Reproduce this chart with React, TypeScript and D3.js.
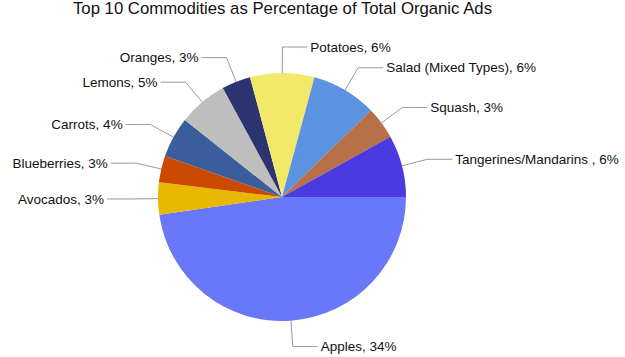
import React from "react";
import * as d3 from "d3";

const categories = [
  "Apples",
  "Avocados",
  "Blueberries",
  "Carrots",
  "Lemons",
  "Oranges",
  "Potatoes",
  "Salad (Mixed Types)",
  "Squash",
  "Tangerines/Mandarins ",
];
const values = [34.2, 3.0, 2.5, 3.8, 4.6, 2.7, 6.0, 6.1, 3.0, 5.8];
const percentLabels = ["34%", "3%", "3%", "4%", "5%", "3%", "6%", "6%", "3%", "6%"];
const colors = [
  "#6878F8",
  "#E8B800",
  "#CC4A00",
  "#3A5E9C",
  "#BEBEBE",
  "#2B3470",
  "#F2E86A",
  "#5B93E0",
  "#B87048",
  "#4A3AE0",
];

const W = 625;
const H = 357;
const CX = 282;
const CY = 197;
const R = 124;
const ELBOW_R = 150;
const HLEN = 25;
const GAP = 3;

export default function App() {
  const data = categories.map((c, i) => ({ name: c, value: values[i], label: percentLabels[i], color: colors[i] }));
  const pie = d3
    .pie<any>()
    .sort(null)
    .value((d) => d.value)
    .startAngle(Math.PI / 2)
    .endAngle(Math.PI / 2 + 2 * Math.PI);
  const arcs = pie(data);
  const arc = d3.arc<any>().innerRadius(0).outerRadius(R);

  return (
    <svg
      width={W}
      height={H}
      style={{ position: "absolute", left: 0, top: 0, background: "#fff" }}
      fontFamily="'Liberation Sans', Arial, sans-serif"
    >
      <text
        x={73}
        y={14}
        textAnchor="start"
        fontSize={16.3}
        textLength={419}
        lengthAdjust="spacingAndGlyphs"
        fill="#111"
      >
        Top 10 Commodities as Percentage of Total Organic Ads
      </text>
      <g transform={`translate(${CX},${CY})`}>
        {arcs.map((a, i) => (
          <path key={i} d={arc(a) as string} fill={a.data.color} />
        ))}
      </g>
      {arcs.map((a, i) => {
        const mid = (a.startAngle + a.endAngle) / 2;
        const sx = Math.sin(mid);
        const sy = -Math.cos(mid);
        const x0 = CX + R * sx;
        const y0 = CY + R * sy;
        const x1 = CX + ELBOW_R * sx;
        const y1 = CY + ELBOW_R * sy;
        const right = sx >= -0.01;
        const x2 = right ? x1 + HLEN : x1 - HLEN;
        const tx = right ? x2 + GAP : x2 - GAP;
        return (
          <g key={i}>
            <polyline
              points={`${x0},${y0} ${x1},${y1} ${x2},${y1}`}
              fill="none"
              stroke="#9a9a9a"
              strokeWidth={1}
            />
            <text
              x={tx}
              y={y1 + 1}
              textAnchor={right ? "start" : "end"}
              dominantBaseline="middle"
              fontSize={13.5}
              fill="#111"
            >
              {`${a.data.name}, ${a.data.label}`}
            </text>
          </g>
        );
      })}
    </svg>
  );
}
